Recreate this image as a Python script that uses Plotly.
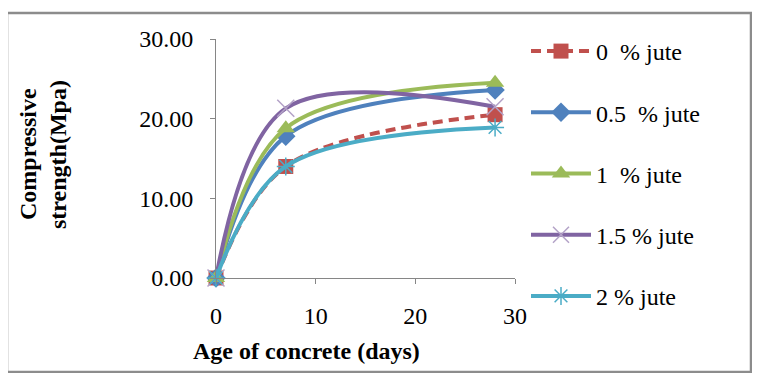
import plotly.graph_objects as go

# ---- data ----
age_days = [0, 7, 28]
jute_0 = [0.0, 14.0, 20.5]
jute_05 = [0.0, 17.8, 23.6]
jute_1 = [0.0, 18.8, 24.5]
jute_15 = [0.0, 21.3, 21.5]
jute_2 = [0.0, 14.0, 18.9]
series_names = ["0 \u00a0% jute", "0.5 \u00a0% jute", "1 \u00a0% jute", "1.5 % jute", "2 % jute"]
y_ticks = [0, 10, 20, 30]
x_ticks = [0, 10, 20, 30]

OFF = 8  # page body margin
W, H = 760 - 2 * OFF, 381 - 2 * OFF
# plot area in page px
L, R, T, B = 216, 515, 39, 278


def px_x(p):
    return (p - L) / (R - L)


def px_y(p):
    return (B - p) / (B - T)


FONT = "Liberation Serif"
FS = 24
series = [
    (jute_0, series_names[0], "#C0504D", "10px,6px", dict(symbol="square", size=15, color="#C0504D")),
    (jute_05, series_names[1], "#4F81BD", "solid", dict(symbol="diamond", size=15, color="#4F81BD")),
    (jute_1, series_names[2], "#9BBB59", "solid", dict(symbol="triangle-up", size=16, color="#9BBB59")),
    (jute_15, series_names[3], "#8064A2", "solid",
     dict(symbol="x-thin-open", size=17, color="#B3A2C7", line=dict(width=1.5, color="#B3A2C7"))),
    (jute_2, series_names[4], "#4BACC6", "solid",
     dict(symbol="asterisk-open", size=15, color="#4BACC6", line=dict(width=1.5, color="#4BACC6"))),
]

fig = go.Figure()
for i, (ys, name, col, dash, mk) in enumerate(series):
    fig.add_trace(go.Scatter(
        x=age_days, y=ys, name=name, mode="lines+markers",
        line=dict(color=col, width=4, dash=dash, shape="spline", smoothing=1.0),
        marker=mk, cliponaxis=False, legendgroup=f"g{i}",
    ))

fig.update_layout(
    width=W, height=H,
    margin=dict(l=L - OFF, r=W - (R - OFF), t=T - OFF, b=H - (B - OFF), autoexpand=False),
    paper_bgcolor="white", plot_bgcolor="white",
    font=dict(family=FONT, size=FS, color="#000"),
    showlegend=True,
    legend=dict(x=px_x(526), y=px_y(29), xanchor="left", yanchor="top",
                font=dict(family=FONT, size=FS), tracegroupgap=27, maxheight=1,
                itemwidth=60, bgcolor="rgba(0,0,0,0)"),
    xaxis=dict(range=[0, 30], tickvals=x_ticks, showgrid=False, zeroline=False,
               showline=True, linecolor="#868686", linewidth=1, ticks="outside",
               ticklen=5, tickcolor="#868686", ticklabelstandoff=11,
               tickfont=dict(family=FONT, size=FS)),
    yaxis=dict(range=[0, 30], tickvals=y_ticks, tickformat=".2f", showgrid=False,
               zeroline=False, showline=True, linecolor="#868686", linewidth=1,
               ticks="outside", ticklen=5, tickcolor="#868686", ticklabelstandoff=12,
               tickfont=dict(family=FONT, size=FS)),
    shapes=[dict(type="rect", xref="paper", yref="paper",
                 x0=px_x(7), x1=px_x(751), y0=px_y(372), y1=px_y(13),
                 line=dict(color="#8C8C8C", width=2.5), layer="below")],
    annotations=[
        dict(text="<b>Age of concrete (days)</b>", xref="paper", yref="paper",
             x=px_x(306), y=px_y(351), showarrow=False, xanchor="center", yanchor="middle",
             font=dict(family=FONT, size=24)),
        dict(text="<b>Compressive</b>", xref="paper", yref="paper",
             x=px_x(28), y=px_y(154), showarrow=False, textangle=-90,
             xanchor="center", yanchor="middle", font=dict(family=FONT, size=24)),
        dict(text="<b>strength(Mpa)</b>", xref="paper", yref="paper",
             x=px_x(58), y=px_y(155), showarrow=False, textangle=-90,
             xanchor="center", yanchor="middle", font=dict(family=FONT, size=24)),
    ],
)

fig.write_html("out.html")
